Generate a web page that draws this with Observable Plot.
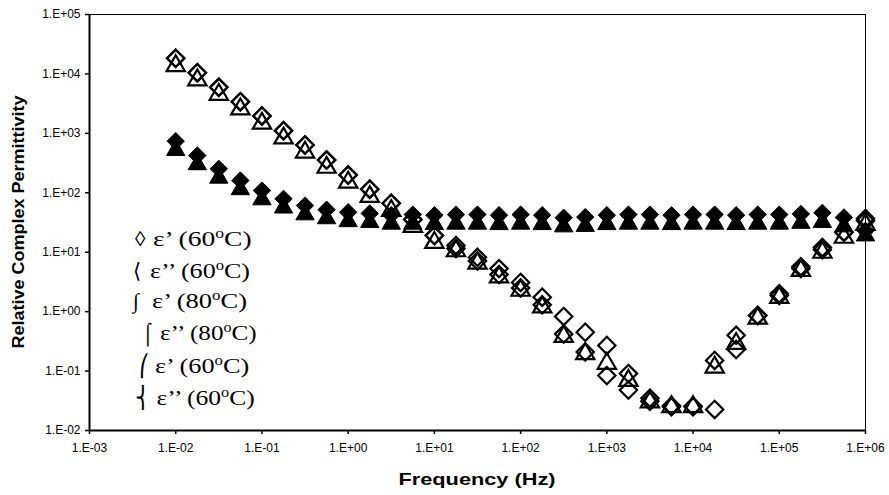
<!DOCTYPE html>
<html><head><meta charset="utf-8">
<script src="https://cdn.jsdelivr.net/npm/d3@7"></script>
<script src="https://cdn.jsdelivr.net/npm/@observablehq/plot@0.6"></script>
<style>
body{margin:0;background:#fff;}
#chart{position:relative;width:889px;height:495px;overflow:hidden;}
#chart svg{display:block;}
</style></head><body><div id="chart"></div>
<script>
// Frequencies (Hz)
const freq = [0.01, 0.0178, 0.0316, 0.0562, 0.1, 0.178, 0.316, 0.562, 1, 1.78, 3.16, 5.62,
  10, 17.8, 31.6, 56.2, 100, 178, 316, 562, 1000, 1780, 3160, 5620, 10000, 17800, 31600, 56200,
  100000, 178000, 316000, 562000, 1000000];
// open diamonds: ε' (60°C)
const epsP60 = [18300, 10500, 5960, 3410, 1960, 1110, 637, 356, 199, 115, 66.5, 35.5,
  19.1, 13, 8.2, 5.3, 3.1, 1.75, 0.83, 0.45, 0.27, 0.091, 0.035, 0.026, 0.0256, 0.0226, 0.23, 0.86,
  2.0, 5.7, 12, 21.7, 37];
// open triangles: ε' (80°C)
const epsP80 = [13700, 7900, 4500, 2560, 1470, 830, 480, 267, 150, 86, 50, 27,
  14.5, 10.5, 6.5, 3.8, 2.27, 1.19, 0.38, 0.195, 0.134, 0.069, 0.030, 0.025, 0.025, 0.116, 0.29, 0.77,
  1.73, 4.9, 9.9, 17.7, 29];
// open diamonds (second run): ε' (60°C)
const epsP60b = [18300, 10500, 5960, 3410, 1960, 1110, 637, 356, 199, 115, 66.5, 35.5,
  19.1, 11.5, 7.1, 4.2, 2.5, 1.3, 0.42, 0.21, 0.084, 0.048, 0.031, 0.025, 0.025, 0.151, 0.40, 0.86,
  1.87, 5.3, 11, 21.7, 34];
// filled diamonds: ε'' (60°C)
const epsPP60 = [738, 424, 253, 161, 109, 79, 61, 52, 47, 45, 42, 43,
  42, 43, 43, 42, 43, 42, 38, 39, 42, 43, 43, 42, 43, 43, 42, 43,
  43, 44, 46, 38.5, 23];
// filled triangles: ε'' (80°C)
const epsPP80 = [520, 300, 178, 114, 77, 56, 43, 37, 33, 32, 30, 30,
  29.5, 30, 30, 29.5, 30, 29.5, 27, 27.5, 29.5, 30, 30, 29.5, 30, 30, 29.5, 30,
  30, 31, 32, 27, 19];

const xTicks = [1e-3, 1e-2, 1e-1, 1e0, 1e1, 1e2, 1e3, 1e4, 1e5, 1e6];
const xTickLabels = ["1.E-03", "1.E-02", "1.E-01", "1.E+00", "1.E+01", "1.E+02", "1.E+03", "1.E+04", "1.E+05", "1.E+06"];
const yTicks = [1e-2, 1e-1, 1e0, 1e1, 1e2, 1e3, 1e4, 1e5];
const yTickLabels = ["1.E-02", "1.E-01", "1.E+00", "1.E+01", "1.E+02", "1.E+03", "1.E+04", "1.E+05"];

const legendSymbols = ["◊", "⟨", "∫", "⌠", "⎛", "⎨"];
const legendEps = ["ε’", "ε’’", "ε’", "ε’’", "ε’", "ε’’"];
const legendTemps = ["60", "60", "80", "80", "60", "60"];

const series = [
  {values: epsP80, symbol: "triangle", r: 6.8, fill: "none", sw: 2.2},
  {values: epsP60b, symbol: "diamond2", r: 7.8, fill: "none", sw: 2.2},
  {values: epsP60, symbol: "diamond2", r: 7.8, fill: "none", sw: 2.2},
  {values: epsPP80, symbol: "triangle", r: 6.8, fill: "black", sw: 1},
  {values: epsPP60, symbol: "diamond2", r: 7.8, fill: "black", sw: 1}
];

const dotMarks = series.map(s => Plot.dot(
  freq.map((f, i) => ({f, v: s.values[i]})),
  {x: "f", y: "v", symbol: () => s.symbol, r: s.r, fill: s.fill, stroke: "black", strokeWidth: s.sw}
));

const chart = Plot.plot({
  width: 889, height: 495,
  marginLeft: 89, marginRight: 24, marginTop: 14, marginBottom: 65,
  style: {fontFamily: "'Liberation Sans', Arial, sans-serif", fontSize: "12px", color: "#000", background: "#fff", overflow: "visible"},
  x: {type: "log", domain: [1e-3, 1e6]},
  y: {type: "log", domain: [1e-2, 1e5]},
  symbol: {type: "identity"},
  marks: [
    Plot.frame({stroke: "#000", strokeWidth: 1}),
    Plot.axisX({ticks: xTicks, tickFormat: d => xTickLabels[Math.round(Math.log10(d)) + 3], tickSize: 4, tickPadding: 9, label: null, strokeWidth: 1.5}),
    Plot.axisY({ticks: yTicks, tickFormat: d => yTickLabels[Math.round(Math.log10(d)) + 2], tickSize: 4, tickPadding: 5, label: null, strokeWidth: 1.5}),
    Plot.ruleX([1e-3], {stroke: "#000", strokeWidth: 2}),
    Plot.ruleY([1e-2], {stroke: "#000", strokeWidth: 2}),
    ...dotMarks
  ]
});
document.getElementById("chart").appendChild(chart);

const svg = d3.select(chart);
// Axis titles
svg.append("text")
  .attr("x", 477).attr("y", 485)
  .attr("text-anchor", "middle")
  .attr("font-family", "'Liberation Sans', Arial, sans-serif")
  .attr("font-weight", "bold").attr("font-size", 17)
  .attr("textLength", 157).attr("lengthAdjust", "spacingAndGlyphs")
  .text("Frequency (Hz)");
svg.append("text")
  .attr("transform", "translate(23.5,222) rotate(-90)")
  .attr("text-anchor", "middle")
  .attr("font-family", "'Liberation Sans', Arial, sans-serif")
  .attr("font-weight", "bold").attr("font-size", 17)
  .attr("textLength", 253).attr("lengthAdjust", "spacingAndGlyphs")
  .text("Relative Complex Permittivity");

// Legend (text)
const legY = [245.7, 278.3, 308.3, 340, 373.3, 405];
const legSymX = [135, 133, 133, 141.5, 139, 135];
const legTextX = [153, 150, 152, 160, 155, 156.5];
const legW = [98.7, 100, 95, 96.7, 94.3, 98.3];
legendSymbols.forEach((sym, i) => {
  svg.append("text")
    .attr("x", legSymX[i]).attr("y", legY[i])
    .attr("text-anchor", "start")
    .attr("font-family", "'Liberation Serif', 'DejaVu Serif', serif")
    .attr("font-size", 21)
    .text(sym);
  const t = svg.append("text")
    .attr("x", legTextX[i]).attr("y", legY[i])
    .attr("text-anchor", "start")
    .attr("font-family", "'Liberation Serif', 'DejaVu Serif', serif")
    .attr("font-size", 22)
    .attr("textLength", legW[i]).attr("lengthAdjust", "spacingAndGlyphs");
  t.append("tspan").text(legendEps[i] + " (" + legendTemps[i]);
  t.append("tspan").attr("dy", -8).attr("font-size", 14).text("o");
  t.append("tspan").attr("dy", 8).text("C)");
});
</script>
</body></html>
